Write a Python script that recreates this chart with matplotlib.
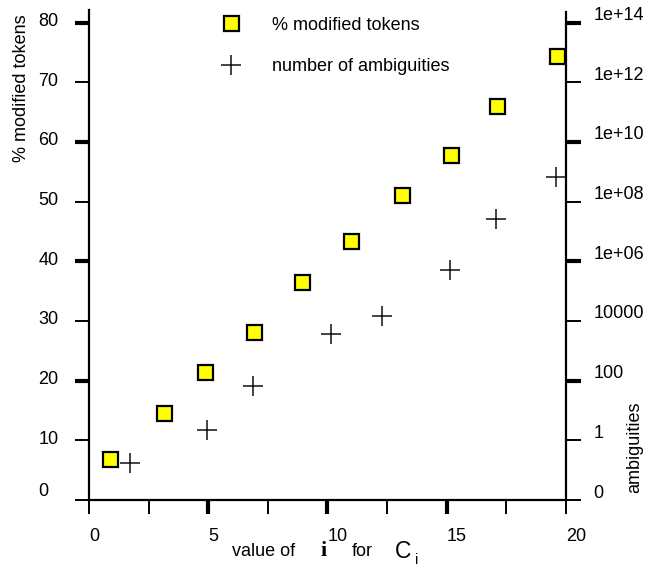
import matplotlib
matplotlib.use("Agg")
import matplotlib.pyplot as plt
import matplotlib.transforms as mtransforms
from matplotlib.ticker import FixedLocator, FixedFormatter
from matplotlib.lines import Line2D

# ---- data ----
tok_x = [0.88, 3.15, 4.88, 6.94, 8.94, 11.0, 13.13, 15.19, 17.1, 19.62]
tok_pct = [6.9, 14.6, 21.5, 28.2, 36.6, 43.4, 51.1, 57.8, 66.0, 74.4]

amb_x = [1.72, 4.96, 6.88, 10.14, 12.29, 15.16, 17.08, 19.59]
amb_n = [0.17, 2.2, 66, 3600, 15000, 5.0e5, 2.6e7, 6.9e8]

left_major = [20, 40, 60, 80]
left_minor = [0, 10, 30, 50, 70]
right_major = [1e2, 1e6, 1e10, 1e14]
right_major_lbl = ["100", "1e+06", "1e+10", "1e+14"]
right_minor = [1e-2, 1, 1e4, 1e8, 1e12]
right_minor_lbl = ["0", "1", "10000", "1e+08", "1e+12"]
x_major = [5, 10, 15]
x_minor = [0, 2.5, 7.5, 12.5, 17.5, 20]
x_minor_lbl = ["0", "", "", "", "", "20"]

plt.rcParams['font.family'] = ['Liberation Sans', 'DejaVu Sans']
FS = 13
W, H = 666, 567
fig = plt.figure(figsize=(W / 100, H / 100), dpi=100)
ax = fig.add_axes([89 / W, 1 - 500 / H, (565.7 - 89) / W, (500 - 10) / H])
ax2 = ax.twinx()

ylo, yhi = 0.0, 82.1
ax.set_xlim(0, 20)
ax.set_ylim(ylo, yhi)
ax2.set_yscale('log')
ax2.set_ylim(10 ** ((ylo - 10) / 5), 10 ** ((yhi - 10) / 5))

ax.plot(tok_x, tok_pct, linestyle='none', marker='s', ms=10.8,
        mfc='#FFFF00', mec='black', mew=1.6, clip_on=False, zorder=5)
ax2.plot(amb_x, amb_n, linestyle='none', marker='+', ms=14,
         mec='#111111', mew=1.1, clip_on=False, zorder=5)

for s in ['top', 'right']:
    ax.spines[s].set_visible(False)
for s in ['top', 'left', 'bottom']:
    ax2.spines[s].set_visible(False)
for s in ['left', 'bottom']:
    ax.spines[s].set_linewidth(1.6)
ax2.spines['right'].set_linewidth(1.6)
ax2.spines['right'].set_bounds(ax2.get_ylim()[0], 10 ** ((yhi - 10) / 5) / 10 ** (0.3 / 5))

# left axis ticks
ax.yaxis.set_major_locator(FixedLocator(left_major))
ax.yaxis.set_major_formatter(FixedFormatter([str(v) for v in left_major]))
ax.yaxis.set_minor_locator(FixedLocator(left_minor))
ax.yaxis.set_minor_formatter(FixedFormatter([str(v) for v in left_minor]))
ax.tick_params(axis='y', which='both', direction='out', length=10, pad=26.4,
               labelsize=FS, color='black')
ax.tick_params(axis='y', which='major', width=3.0)
ax.tick_params(axis='y', which='minor', width=1.4)
for lab in ax.yaxis.get_majorticklabels() + ax.yaxis.get_minorticklabels():
    lab.set_horizontalalignment('left')

# bottom axis ticks
ax.xaxis.set_major_locator(FixedLocator(x_major))
ax.xaxis.set_major_formatter(FixedFormatter([str(v) for v in x_major]))
ax.xaxis.set_minor_locator(FixedLocator(x_minor))
ax.xaxis.set_minor_formatter(FixedFormatter(x_minor_lbl))
ax.tick_params(axis='x', which='both', direction='out', length=10, pad=10.5,
               labelsize=FS, color='black')
ax.tick_params(axis='x', which='major', width=3.0)
ax.tick_params(axis='x', which='minor', width=1.4)
for lab in ax.xaxis.get_majorticklabels() + ax.xaxis.get_minorticklabels():
    lab.set_horizontalalignment('left')

# right axis ticks
ax2.yaxis.set_major_locator(FixedLocator(right_major))
ax2.yaxis.set_major_formatter(FixedFormatter(right_major_lbl))
ax2.yaxis.set_minor_locator(FixedLocator(right_minor))
ax2.yaxis.set_minor_formatter(FixedFormatter(right_minor_lbl))
ax2.tick_params(axis='y', which='both', direction='out', length=10.5, pad=9.6,
                labelsize=FS, color='black')
ax2.tick_params(axis='y', which='major', width=3.0)
ax2.tick_params(axis='y', which='minor', width=1.4)

fig.canvas.draw()

for t in ax.yaxis.get_major_ticks() + ax.yaxis.get_minor_ticks():
    v = t.get_loc()
    dy = 11 if v == 0 else 3
    off = mtransforms.ScaledTranslation(0, dy / 100, fig.dpi_scale_trans)
    t.label1.set_transform(t.label1.get_transform() + off)
for t in ax2.yaxis.get_major_ticks() + ax2.yaxis.get_minor_ticks():
    off = mtransforms.ScaledTranslation(0, 9 / 100, fig.dpi_scale_trans)
    t.label2.set_transform(t.label2.get_transform() + off)

# axis titles
fig.text(21.7 / W, 1 - 88 / H, "% modified tokens", rotation=90, fontsize=FS,
         ha='center', va='center')
fig.text(634.7 / W, 1 - 447.5 / H, "ambiguities", rotation=90, fontsize=FS,
         ha='center', va='center')

# composite x label
fig.text(232.3 / W, 1 - 556.5 / H, "value of", fontsize=FS, ha='left', va='baseline')
fig.text(323.5 / W, 1 - 556.5 / H, "i", fontsize=16, fontweight='bold',
         family=['Liberation Serif', 'DejaVu Serif'], ha='center', va='baseline')
fig.text(351.7 / W, 1 - 556.5 / H, "for", fontsize=FS, ha='left', va='baseline')
fig.text(395 / W, 1 - 558.5 / H, "C", fontsize=16.5, ha='left', va='baseline')
fig.text(416.7 / W, 1 - 564.5 / H, "i", fontsize=10.5, ha='center', va='baseline')

# legend
h1 = Line2D([], [], linestyle='none', marker='s', ms=10.8, mfc='#FFFF00',
            mec='black', mew=1.6)
h2 = Line2D([], [], linestyle='none', marker='+', ms=14, mec='#111111', mew=1.1)
fig.legend([h1, h2], ["% modified tokens", "number of ambiguities"],
           loc='upper left', bbox_to_anchor=(213 / W, 1 - 16.5 / H),
           bbox_transform=fig.transFigure, frameon=False, fontsize=FS,
           handlelength=2.0, handletextpad=1.25, labelspacing=1.37,
           borderpad=0, borderaxespad=0)

fig.savefig("out.png", dpi=100)
